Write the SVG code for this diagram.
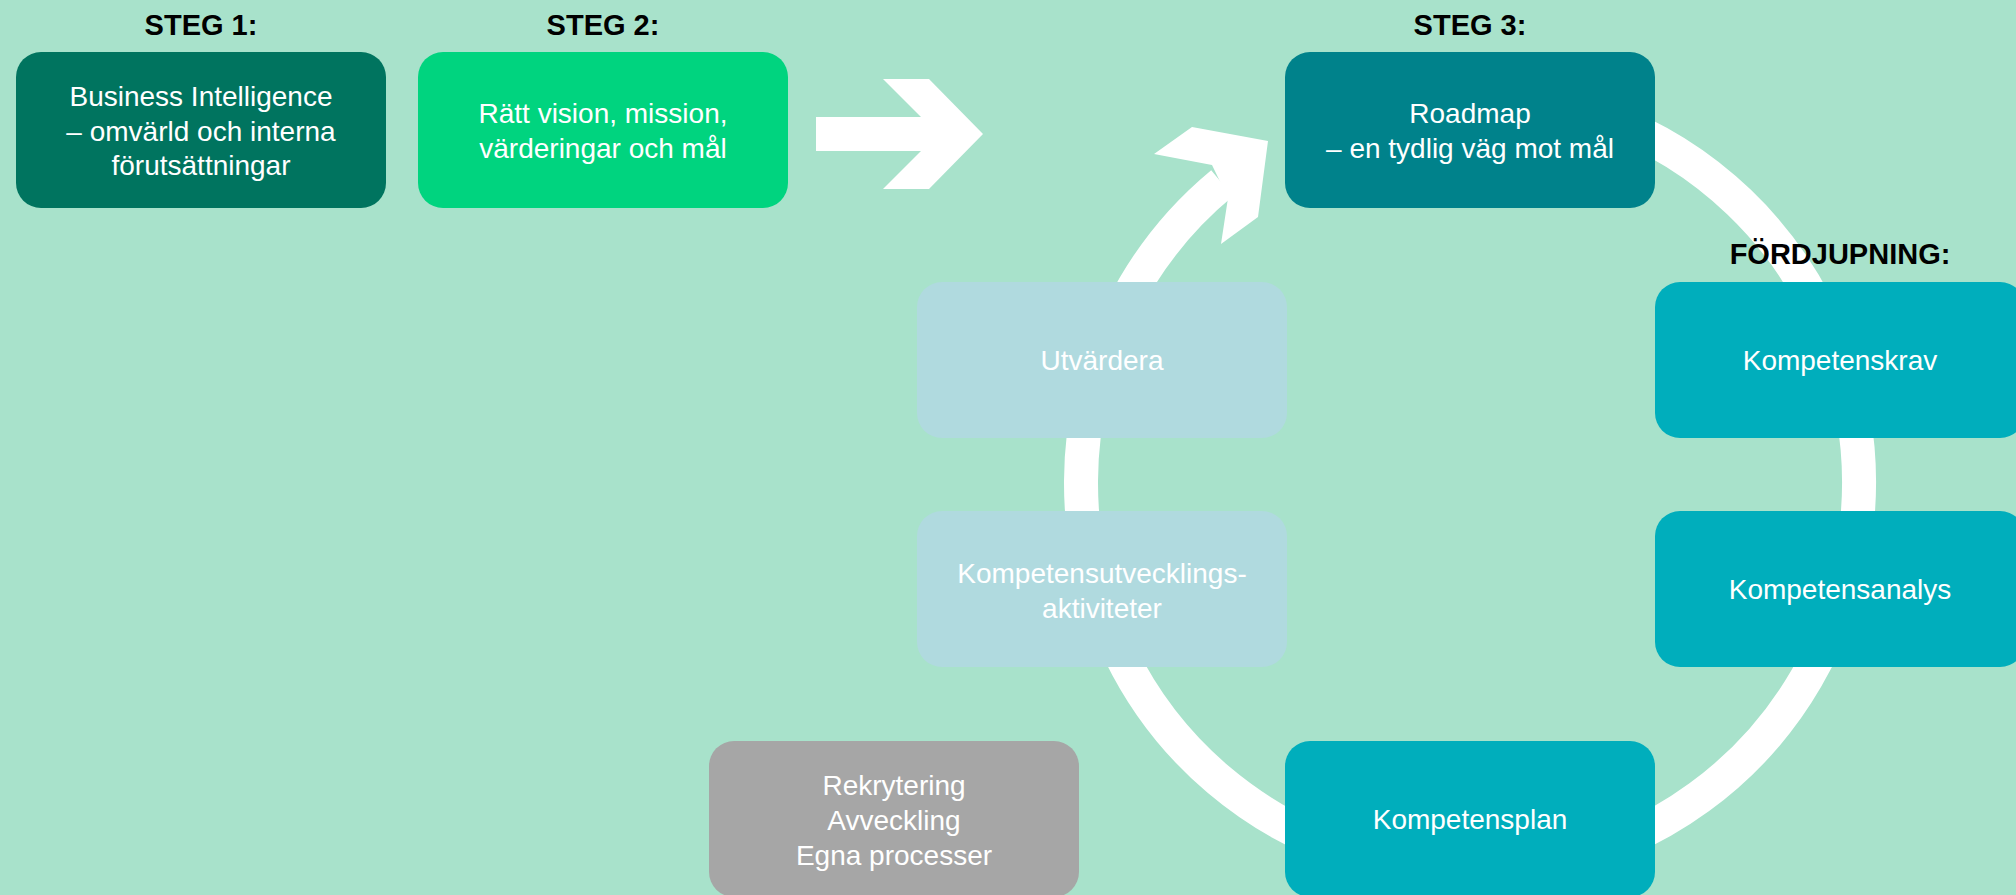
<svg xmlns="http://www.w3.org/2000/svg" width="2016" height="895" viewBox="0 0 2016 895">
<style>
.box{stroke:none}
.t{font-family:"Liberation Sans",Arial,sans-serif;font-size:28px;fill:#ffffff;text-anchor:middle}
.lbl{font-family:"Liberation Sans",Arial,sans-serif;font-size:29px;font-weight:bold;fill:#000000;text-anchor:middle}
.dg{fill:#00745F}.bg2{fill:#00D47F}.tl{fill:#00828B}.cy{fill:#00AEBC}.lb{fill:#B0DADF}.gr{fill:#A6A6A6}
</style>
<rect x="0" y="0" width="2016" height="895" fill="#A8E2CB"/>
<g id="connectors">
<polygon points="816,117 921,117 883,79 929,79 983,134 929,189 883,189 921,151 816,151" fill="#ffffff"/>
<path d="M1222.04,183.27 A389,389 0 1 0 1603.05,117.46" fill="none" stroke="#ffffff" stroke-width="34"/>
<polygon points="1154,154 1192,127 1268,141 1258,217 1221,244 1228,198 1212,165" fill="#ffffff"/>
</g>
<g id="labels">
<text class="lbl" x="201" y="35">STEG 1:</text>
<text class="lbl" x="603" y="35">STEG 2:</text>
<text class="lbl" x="1470" y="35">STEG 3:</text>
<text class="lbl" x="1840" y="264">FÖRDJUPNING:</text>
</g>
<g id="node-bi">
<rect class="box dg" x="16" y="52" width="370" height="156" rx="25"/>
<text class="t" x="201"><tspan x="201" y="106">Business Intelligence</tspan><tspan x="201" y="141">– omvärld och interna</tspan><tspan x="201" y="175">förutsättningar</tspan></text>
</g>
<g id="node-vision">
<rect class="box bg2" x="418" y="52" width="370" height="156" rx="25"/>
<text class="t" x="603"><tspan x="603" y="123">Rätt vision, mission,</tspan><tspan x="603" y="158">värderingar och mål</tspan></text>
</g>
<g id="node-roadmap">
<rect class="box tl" x="1285" y="52" width="370" height="156" rx="25"/>
<text class="t" x="1470"><tspan x="1470" y="123">Roadmap</tspan><tspan x="1470" y="158">– en tydlig väg mot mål</tspan></text>
</g>
<g id="node-krav">
<rect class="box cy" x="1655" y="282" width="370" height="156" rx="25"/>
<text class="t" x="1840" y="370">Kompetenskrav</text>
</g>
<g id="node-analys">
<rect class="box cy" x="1655" y="511" width="370" height="156" rx="25"/>
<text class="t" x="1840" y="599">Kompetensanalys</text>
</g>
<g id="node-plan">
<rect class="box cy" x="1285" y="741" width="370" height="156" rx="25"/>
<text class="t" x="1470" y="829">Kompetensplan</text>
</g>
<g id="node-utvardera">
<rect class="box lb" x="917" y="282" width="370" height="156" rx="25"/>
<text class="t" x="1102" y="370">Utvärdera</text>
</g>
<g id="node-aktiviteter">
<rect class="box lb" x="917" y="511" width="370" height="156" rx="25"/>
<text class="t" x="1102"><tspan x="1102" y="583">Kompetensutvecklings-</tspan><tspan x="1102" y="618">aktiviteter</tspan></text>
</g>
<g id="node-other">
<rect class="box gr" x="709" y="741" width="370" height="156" rx="25"/>
<text class="t" x="894"><tspan x="894" y="795">Rekrytering</tspan><tspan x="894" y="830">Avveckling</tspan><tspan x="894" y="865">Egna processer</tspan></text>
</g>
</svg>
